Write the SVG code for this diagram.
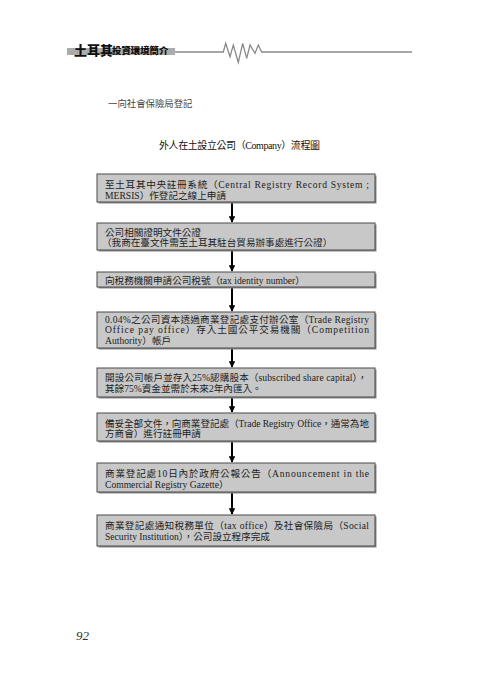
<svg xmlns="http://www.w3.org/2000/svg" width="480" height="679" viewBox="0 0 480 679">
<defs>
<style>
.bx{fill:#c8c8c8;stroke:#4a4a4a;stroke-width:1}
.sh{fill:#8a8a8a}
.t{font-family:"Liberation Serif","Noto Sans CJK TC",serif;font-size:9.6px;fill:#222}
.ar{stroke:#000;stroke-width:2;fill:none}
</style>
<marker id="ah" viewBox="0 0 10 10" refX="9" refY="5" markerWidth="3.2" markerHeight="3.2" orient="auto" markerUnits="strokeWidth">
<path d="M0,0 L10,5 L0,10 z" fill="#000"/>
</marker>
</defs>
<rect width="480" height="679" fill="#fff"/>
<g id="header">
<rect x="67" y="48" width="108" height="7" fill="#ababab"/>
<text x="74" y="55" style="font-family:'Noto Sans CJK TC',sans-serif;font-weight:900;font-size:13px;fill:#111">土耳其</text>
<text x="112" y="54" style="font-family:'Noto Sans CJK TC',sans-serif;font-weight:900;font-size:9.4px;fill:#111">投資環境簡介</text>
<polyline points="175,52 223.3,52 225.7,43.3 230,56.7 233.3,45 238.3,62.3 242.7,43.3 246.7,58.3 250,45 255,53.3 258.3,45 261.7,52 412,52" fill="none" stroke="#8a8a8a" stroke-width="1.3"/>
</g>
<text id="subtitle" x="108" y="107" style="font-family:'Noto Sans CJK TC',sans-serif;font-size:9.4px;fill:#444">一向社會保險局登記</text>
<text id="title" x="159" y="149" class="t" style="font-size:10px;fill:#111" textLength="161" lengthAdjust="spacing">外人在土設立公司（Company）流程圖</text>

<g id="connectors">
<line class="ar" x1="232" y1="202" x2="232" y2="222" marker-end="url(#ah)"/>
<line class="ar" x1="232" y1="251" x2="232" y2="271" marker-end="url(#ah)"/>
<line class="ar" x1="232" y1="288" x2="232" y2="311" marker-end="url(#ah)"/>
<line class="ar" x1="232" y1="349" x2="232" y2="367" marker-end="url(#ah)"/>
<line class="ar" x1="232" y1="398" x2="232" y2="412" marker-end="url(#ah)"/>
<line class="ar" x1="232" y1="442" x2="232" y2="462" marker-end="url(#ah)"/>
<line class="ar" x1="232" y1="493" x2="232" y2="514" marker-end="url(#ah)"/>
</g>

<g id="n1">
<rect class="sh" x="98.5" y="175.5" width="278" height="28"/>
<rect class="bx" x="97" y="174" width="278" height="28"/>
<text class="t" x="105" y="188" textLength="264" lengthAdjust="spacing">至土耳其中央註冊系統（Central Registry Record System ;</text>
<text class="t" x="105" y="199">MERSIS）作登記之線上申請</text>
</g>
<g id="n2">
<rect class="sh" x="98.5" y="224.5" width="278" height="27"/>
<rect class="bx" x="97" y="223" width="278" height="27"/>
<text class="t" x="105" y="235.5">公司相關證明文件公證</text>
<text class="t" x="102" y="246">（我商在臺文件需至土耳其駐台貿易辦事處進行公證）</text>
</g>
<g id="n3">
<rect class="sh" x="98.5" y="273.5" width="278" height="15"/>
<rect class="bx" x="97" y="272" width="278" height="15"/>
<text class="t" x="105" y="284">向稅務機關申請公司稅號（tax identity number）</text>
</g>
<g id="n4">
<rect class="sh" x="98.5" y="313.5" width="278" height="36"/>
<rect class="bx" x="97" y="312" width="278" height="36"/>
<text class="t" x="105" y="322.5" textLength="264" lengthAdjust="spacing">0.04%之公司資本透過商業登記處支付辦公室（Trade Registry</text>
<text class="t" x="105" y="333" textLength="264" lengthAdjust="spacing">Office pay office）存入土國公平交易機關（Competition</text>
<text class="t" x="105" y="343.5">Authority）帳戶</text>
</g>
<g id="n5">
<rect class="sh" x="98.5" y="369.5" width="278" height="29"/>
<rect class="bx" x="97" y="368" width="278" height="29"/>
<text class="t" x="105" y="381" textLength="262" lengthAdjust="spacing">開設公司帳戶並存入25%認購股本（subscribed share capital），</text>
<text class="t" x="105" y="391.5">其餘75%資金並需於未來2年內匯入。</text>
</g>
<g id="n6">
<rect class="sh" x="98.5" y="414.5" width="278" height="28"/>
<rect class="bx" x="97" y="413" width="278" height="28"/>
<text class="t" x="105" y="427" textLength="264" lengthAdjust="spacing">備妥全部文件，向商業登記處（Trade Registry Office，通常為地</text>
<text class="t" x="105" y="437">方商會）進行註冊申請</text>
</g>
<g id="n7">
<rect class="sh" x="98.5" y="464.5" width="278" height="29"/>
<rect class="bx" x="97" y="463" width="278" height="29"/>
<text class="t" x="105" y="477" textLength="264" lengthAdjust="spacing">商業登記處10日內於政府公報公告（Announcement in the</text>
<text class="t" x="105" y="487.5">Commercial Registry Gazette）</text>
</g>
<g id="n8">
<rect class="sh" x="98.5" y="516.5" width="278" height="31"/>
<rect class="bx" x="97" y="515" width="278" height="31"/>
<text class="t" x="105" y="529" textLength="264" lengthAdjust="spacing">商業登記處通知稅務單位（tax office）及社會保險局（Social</text>
<text class="t" x="105" y="540">Security Institution），公司設立程序完成</text>
</g>
<text id="page" x="76" y="640" style="font-family:'Liberation Serif',serif;font-style:italic;font-size:13px;fill:#333">92</text>
</svg>
